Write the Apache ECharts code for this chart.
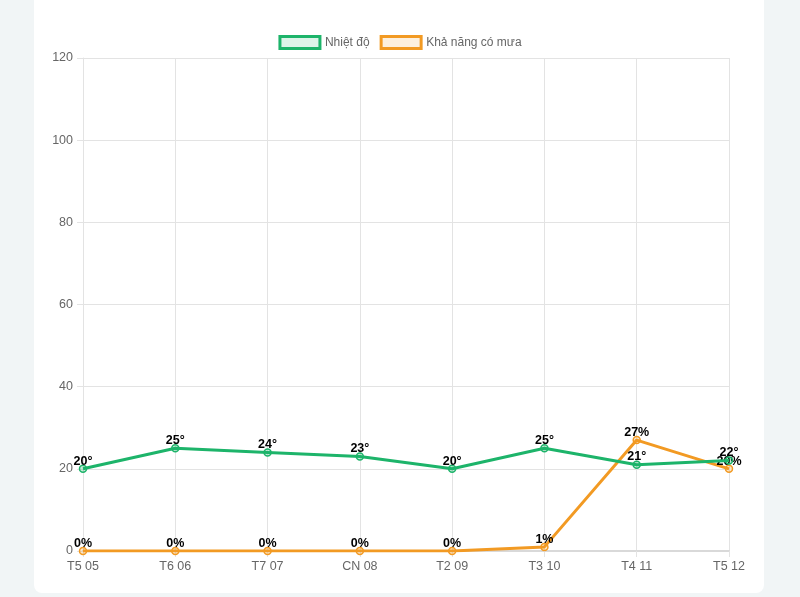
<!DOCTYPE html>
<html><head><meta charset="utf-8">
<script src="https://cdn.jsdelivr.net/npm/echarts@6/dist/echarts.min.js"></script>
<style>
html,body{margin:0;padding:0;background:#f1f5f6;}
#panel{position:absolute;left:34px;top:0;width:730px;height:593px;background:#fff;border-radius:0 0 8px 8px;}
#chart{position:absolute;left:0;top:0;width:800px;height:597px;}
</style></head>
<body><div id="panel"></div><div id="chart"></div>
<script>
var categories = ["T5 05","T6 06","T7 07","CN 08","T2 09","T3 10","T4 11","T5 12"];
var temperature = [20,25,24,23,20,25,21,22];
var rainChance = [0,0,0,0,0,1,27,20];
var seriesNames = ["Nhiệt độ","Khả năng có mưa"];

var green = '#1db46a', orange = '#f29a23';
var chart = echarts.init(document.getElementById('chart'), null, {renderer:'canvas'});
var font = 'Liberation Sans, Arial, sans-serif';
function lbl(suffix){
  return {show:true, position:'top', distance:1, offset:[0,4], color:'#000', fontWeight:'bold', fontSize:12.5, fontFamily:font,
    formatter:function(p){return p.value + suffix;}};
}
chart.setOption({
  animation:false,
  legend:{
    top:30, left:'center', itemWidth:40, itemHeight:12, itemGap:10,
    textStyle:{color:'#666', fontSize:12, fontFamily:font},
    data:[
      {name:seriesNames[0], icon:'rect', itemStyle:{color:'rgba(29,180,106,0.15)', borderColor:green, borderWidth:3}},
      {name:seriesNames[1], icon:'rect', itemStyle:{color:'rgba(242,154,35,0.15)', borderColor:orange, borderWidth:3}}
    ]
  },
  grid:{left:83, right:71, top:58, bottom:46, containLabel:false},
  xAxis:{
    type:'category', data:categories, boundaryGap:false,
    axisLine:{show:true, lineStyle:{color:'#d9d9d9', width:2}},
    axisTick:{show:true, length:6, lineStyle:{color:'#e3e3e3'}},
    axisLabel:{color:'#666', fontSize:12.5, fontFamily:font, margin:9},
    splitLine:{show:true, lineStyle:{color:'#e3e3e3', width:1}}
  },
  yAxis:{
    type:'value', min:0, max:120, interval:20,
    axisLine:{show:true, lineStyle:{color:'#e3e3e3'}},
    axisTick:{show:true, length:6, lineStyle:{color:'#e3e3e3'}},
    axisLabel:{color:'#666', fontSize:12.5, fontFamily:font, margin:10},
    splitLine:{show:true, lineStyle:{color:'#e3e3e3', width:1}}
  },
  series:[
    {name:seriesNames[0], type:'line', data:temperature, symbol:'circle', symbolSize:7,
     lineStyle:{color:green, width:3}, itemStyle:{color:'rgba(29,180,106,0.25)', borderColor:green, borderWidth:1.5},
     label:lbl('°'), z:3},
    {name:seriesNames[1], type:'line', data:rainChance, symbol:'circle', symbolSize:7,
     lineStyle:{color:orange, width:3}, itemStyle:{color:'rgba(242,154,35,0.25)', borderColor:orange, borderWidth:1.5},
     label:lbl('%'), z:2}
  ]
});
</script></body></html>
